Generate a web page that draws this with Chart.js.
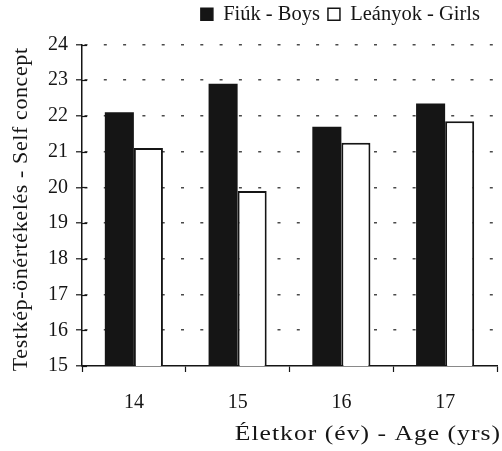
<!DOCTYPE html>
<html>
<head>
<meta charset="utf-8">
<script src="https://cdn.jsdelivr.net/npm/chart.js@4"></script>
<style>
  html, body { margin: 0; padding: 0; background: #fff; }
  #wrap { width: 502px; height: 451px; }
</style>
</head>
<body>
<div id="wrap"><canvas id="bar-chart" width="502" height="451"></canvas></div>
<script>
const edades = ["14", "15", "16", "17"];
const fiuk = [22.1, 22.9, 21.7, 22.35];
const lanyok = [21.1, 19.9, 21.25, 21.85];
const yMin = 15;
const yMax = 24;
const xTitulo = "Életkor (év) - Age (yrs)";
const yTitulo = "Testkép-önértékelés - Self concept";

const serif = "'Liberation Serif', 'Times New Roman', serif";
const ink = "#151515";

// espacio extra bajo la leyenda y leyenda un poco a la izquierda
const espacioLeyenda = {
    id: "espacioLeyenda",
    beforeInit(chart) {
        const fitOriginal = chart.legend.fit;
        chart.legend.fit = function () {
            fitOriginal.bind(chart.legend)();
            this.height += 10;
        };
    },
    afterLayout(chart) {
        chart.legend.right -= 9;
    }
};

// titulos de ejes dibujados a mano (letra ancha como en el original)
const titulos = {
    id: "titulos",
    afterDraw(chart) {
        const { ctx, chartArea, scales } = chart;
        ctx.save();
        ctx.fillStyle = ink;
        ctx.font = "20px " + serif;
        ctx.textBaseline = "middle";

        // marcas del eje y que cruzan la linea
        ctx.strokeStyle = ink;
        ctx.lineWidth = 1.2;
        scales.y.ticks.forEach((t) => {
            const py = Math.round(scales.y.getPixelForValue(t.value)) + 0.5;
            ctx.beginPath();
            ctx.moveTo(chartArea.left, py);
            ctx.lineTo(chartArea.left + 5, py);
            ctx.stroke();
        });

        ctx.save();
        ctx.translate(chartArea.right + 4, chart.height - 16);
        ctx.scale(1.28, 1);
        ctx.letterSpacing = "0.8px";
        ctx.textAlign = "right";
        ctx.fillText(xTitulo, 0, 0);
        ctx.restore();

        ctx.translate(22, (chartArea.top + chartArea.bottom) / 2 + 4);
        ctx.rotate(-Math.PI / 2);
        ctx.scale(1.1, 1);
        ctx.letterSpacing = "0.55px";
        ctx.textAlign = "center";
        ctx.fillText(yTitulo, 0, 0);
        ctx.restore();
    }
};

const contenedor = document.querySelector("#bar-chart").getContext("2d");

const barChart = new Chart(contenedor, {
    type: "bar",
    data: {
        labels: edades,
        datasets: [
            {
                label: "Fiúk - Boys",
                data: fiuk,
                backgroundColor: ink,
                borderColor: ink,
                borderWidth: 0
            },
            {
                label: "Leányok - Girls",
                data: lanyok,
                backgroundColor: "#fff",
                borderColor: ink,
                borderWidth: 2
            }
        ]
    },
    options: {
        responsive: false,
        animation: false,
        categoryPercentage: 0.56,
        barPercentage: 1,
        layout: { padding: { left: 40, right: 5, top: -4, bottom: 17 } },
        plugins: {
            tooltip: { enabled: false },
            legend: {
                position: "top",
                align: "end",
                labels: {
                    color: ink,
                    font: { family: serif, size: 20.5 },
                    boxWidth: 12,
                    boxHeight: 12,
                    padding: 8,
                    generateLabels: (chart) => chart.data.datasets.map((ds, i) => ({
                        text: ds.label,
                        fillStyle: ds.backgroundColor,
                        strokeStyle: ink,
                        lineWidth: 1.5,
                        fontColor: ink,
                        datasetIndex: i
                    }))
                }
            }
        },
        scales: {
            x: {
                grid: {
                    drawOnChartArea: false,
                    tickLength: 6,
                    tickColor: ink,
                    tickWidth: 1.2
                },
                border: { color: ink, width: 1.5 },
                ticks: {
                    color: ink,
                    padding: 19,
                    font: { family: serif, size: 20 }
                }
            },
            y: {
                min: yMin,
                max: yMax,
                grid: {
                    color: (ctx) => ctx.tick && ctx.tick.value === yMin ? "rgba(0,0,0,0)" : "#4a4a4a",
                    lineWidth: 1.6,
                    tickLength: 6,
                    tickColor: ink,
                    tickWidth: 1.2
                },
                border: { color: ink, width: 1.5, dash: [3, 16.3], dashOffset: 17.3 },
                ticks: {
                    stepSize: 1,
                    color: ink,
                    padding: 8,
                    font: { family: serif, size: 20 }
                }
            }
        }
    },
    plugins: [espacioLeyenda, titulos]
});
</script>
</body>
</html>
